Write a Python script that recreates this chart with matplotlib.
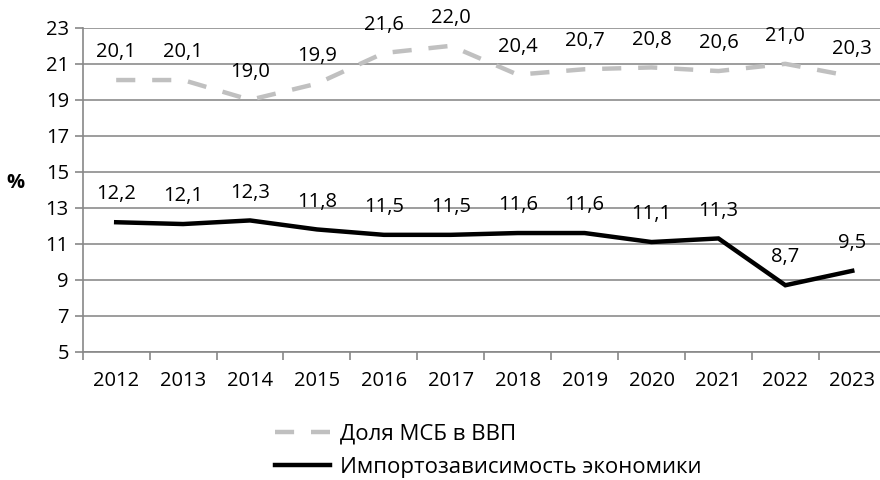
import matplotlib.pyplot as plt
from matplotlib.lines import Line2D

years = ['2012', '2013', '2014', '2015', '2016', '2017',
         '2018', '2019', '2020', '2021', '2022', '2023']
msb_share = [20.1, 20.1, 19.0, 19.9, 21.6, 22.0, 20.4, 20.7, 20.8, 20.6, 21.0, 20.3]
import_dep = [12.2, 12.1, 12.3, 11.8, 11.5, 11.5, 11.6, 11.6, 11.1, 11.3, 8.7, 9.5]
msb_name = 'Доля МСБ в ВВП'
import_name = 'Импортозависимость экономики'

plt.rcParams['font.family'] = ['Open Sans', 'DejaVu Sans']
fs = 14.5

fig = plt.figure(figsize=(8.8, 4.8), dpi=100)
ax = fig.add_axes([0.094, 0.267, 0.9125, 0.675])

dash = (4.3, 3.8)
x = list(range(len(years)))
ax.plot(x, msb_share, color='#c0c0c0', lw=3.2, dashes=dash,
        dash_capstyle='butt', zorder=3)
ax.plot(x, import_dep, color='black', lw=3.2, solid_joinstyle='miter', zorder=3)

for xi, v in zip(x, msb_share):
    ax.annotate(f'{v:.1f}'.replace('.', ','), (xi, v), xytext=(0, 20),
                textcoords='offset points', ha='center', va='center', fontsize=fs)
for xi, v in zip(x, import_dep):
    ax.annotate(f'{v:.1f}'.replace('.', ','), (xi, v), xytext=(0, 20),
                textcoords='offset points', ha='center', va='center', fontsize=fs)

ax.set_xlim(-0.5, len(years) - 0.5)
ax.set_ylim(5, 23)
ax.set_yticks(range(5, 24, 2))
ax.set_xticks(x)
ax.set_xticklabels(years)
ax.set_xticks([i - 0.5 for i in range(len(years) + 1)], minor=True)
ax.tick_params(axis='x', which='major', length=0, pad=14, labelsize=fs)
ax.tick_params(axis='x', which='minor', length=6, color='#888888', width=1.2)
ax.tick_params(axis='y', length=6, color='#888888', width=1.2, labelsize=fs, pad=4)
ax.grid(axis='y', color='#8c8c8c', lw=1.2, zorder=0)
for s in ['top', 'right']:
    ax.spines[s].set_visible(False)
for s in ['left', 'bottom']:
    ax.spines[s].set_color('#888888')
    ax.spines[s].set_linewidth(1.2)

fig.text(0.018, 0.618, '%', fontsize=fs, fontweight='bold', ha='center', va='center')

handles = [Line2D([], [], color='#c0c0c0', lw=3.2, dashes=dash, dash_capstyle='butt'),
           Line2D([], [], color='black', lw=3.2)]
fig.legend(handles, [msb_name, import_name], loc='upper left',
           bbox_to_anchor=(0.312, 0.118), frameon=False, fontsize=16,
           handlelength=2.5, handletextpad=0.45, labelspacing=0.55,
           borderaxespad=0, borderpad=0)

fig.savefig('out.png', dpi=100)
